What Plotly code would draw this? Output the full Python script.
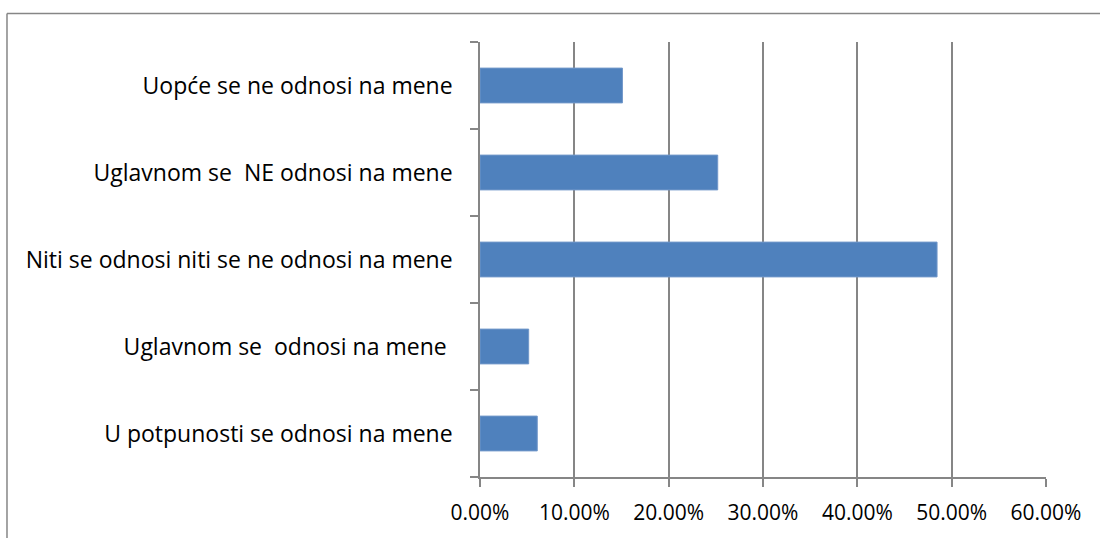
import plotly.graph_objects as go

# categories listed bottom-to-top, as plotly draws a horizontal bar axis
categories = [
    "U potpunosti se odnosi na mene",
    "Uglavnom se\u00a0\u00a0odnosi na mene\u00a0",
    "Niti se odnosi niti se ne odnosi na mene",
    "Uglavnom se\u00a0\u00a0NE odnosi na mene",
    "Uopće se ne odnosi na mene",
]
shares = [0.0607, 0.0516, 0.4845, 0.252, 0.151]

axis_grey = "#868686"

fig = go.Figure()

fig.add_trace(go.Bar(
    x=shares, y=categories,
    orientation="h",
    marker=dict(color="#4F81BD", line=dict(color="#7197c9", width=1)),
    hoverinfo="x+y",
))

fig.update_layout(
    width=1100, height=538,
    margin=dict(l=480, r=54, t=42, b=61),
    paper_bgcolor="white",
    plot_bgcolor="white",
    showlegend=False,
    bargap=0.6,
    font=dict(family="Open Sans", color="black"),
)

fig.update_xaxes(
    range=[0, 0.6], dtick=0.1, tickformat=".2%",
    showgrid=True, gridcolor=axis_grey, gridwidth=1.5,
    zeroline=False,
    showline=True, linecolor=axis_grey, linewidth=1.5,
    ticks="outside", ticklen=8, tickcolor=axis_grey, tickwidth=1.5,
    tickfont=dict(size=21, color="black"),
    ticklabelstandoff=8,
)

fig.update_yaxes(
    type="category", tickson="boundaries",
    showgrid=False, zeroline=False,
    showline=True, linecolor=axis_grey, linewidth=1.5,
    ticks="outside", ticklen=8, tickcolor=axis_grey, tickwidth=1.5,
    tickfont=dict(size=23, color="black"),
    ticklabelstandoff=21,
)

# chart frame: only its left and top edges fall inside the picture
fig.add_shape(type="line", xref="paper", yref="paper",
              x0=-0.8357, x1=-0.8357, y0=-0.3, y1=1.0655,
              line=dict(color=axis_grey, width=1.5))
fig.add_shape(type="line", xref="paper", yref="paper",
              x0=-0.8357, x1=1.2, y0=1.0655, y1=1.0655,
              line=dict(color=axis_grey, width=1.5))

# drop the browser's default page margin so the figure sits at the window corner
fig.write_html("out.html", config={"displayModeBar": False},
               post_script="document.body.style.margin='0';")
